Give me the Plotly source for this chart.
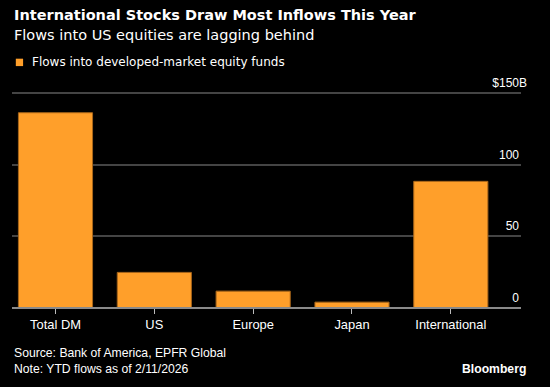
import plotly.graph_objects as go

categories = ["Total DM", "US", "Europe", "Japan", "International"]
flows = [136.5, 24.8, 11.7, 4.0, 88.5]
y_tickvals = [0, 50, 100, 150]
y_ticktext = ["0", "50", "100", "$150"]

ORANGE = "#FF9F2A"
FONT = "Liberation Sans"
WIDE = "DejaVu Sans"
GHOST = "<span style='color:rgba(0,0,0,0)'>B</span>"

Y_MIN, Y_MAX = -5, 165

fig = go.Figure()
fig.add_trace(go.Bar(
    x=categories, y=flows, width=0.75,
    marker=dict(color=ORANGE, line=dict(color="#A8661A", width=1)),
    showlegend=False, hoverinfo="skip",
))

ticktext = [t + ("B" if t.startswith("$") else GHOST) for t in y_ticktext]

fig.update_layout(
    width=550, height=387,
    paper_bgcolor="black", plot_bgcolor="black",
    margin=dict(l=12, r=29, t=71.9, b=72.2, pad=0, autoexpand=False),
    font=dict(family=FONT, color="white", size=12),
    showlegend=False,
    bargap=0.25,
)
fig.update_xaxes(
    range=[-0.44, 4.71], showgrid=False, showline=True, linecolor="#8a8a8a", linewidth=1.5,
    ticks="outside", ticklen=5, tickcolor="#bbbbbb", tickwidth=1,
    anchor="free", position=(0 - Y_MIN) / (Y_MAX - Y_MIN),
    tickfont=dict(size=12.9, color="white"), fixedrange=True, automargin=False,
)
fig.update_yaxes(
    range=[Y_MIN, Y_MAX], side="right", tickvals=y_tickvals, ticktext=ticktext,
    ticklabelposition="inside top", ticklabelstandoff=-9, ticklabelshift=-2,
    showgrid=True, gridcolor="#444444", gridwidth=1.5, zeroline=False,
    showline=False, ticks="", tickfont=dict(size=12, color="white"), fixedrange=True,
    automargin=False,
)

def ann(text, x, y, size, bold=False, xanchor="left", family=FONT):
    fig.add_annotation(
        text=f"<b>{text}</b>" if bold else text, xref="paper", yref="paper",
        x=x, y=y, xanchor=xanchor, yanchor="middle", showarrow=False,
        font=dict(size=size, color="white", family=family),
    )

ann("International Stocks Draw Most Inflows This Year", 0, 1.2343, 14.5, bold=True, family=WIDE)
ann("Flows into US equities are lagging behind", 0, 1.154, 14.5, family=WIDE)
ann("Flows into developed-market equity funds", 0.0358, 1.0408, 12, family=WIDE)
ann("Source: Bank of America, EPFR Global", 0, -0.1552, 12.2)
ann("Note: YTD flows as of 2/11/2026", 0, -0.2231, 12.2)
ann("Bloomberg", 1.0135, -0.2231, 12.2, bold=True, xanchor="right")

# legend swatch
fig.add_shape(type="rect", xref="paper", yref="paper",
              x0=0.0075, x1=0.0218, y0=1.0243, y1=1.0548,
              fillcolor=ORANGE, line=dict(width=0))

fig.write_html("out.html", config={"displayModeBar": False},
               post_script="document.body.style.margin='0';document.body.style.background='black';")
